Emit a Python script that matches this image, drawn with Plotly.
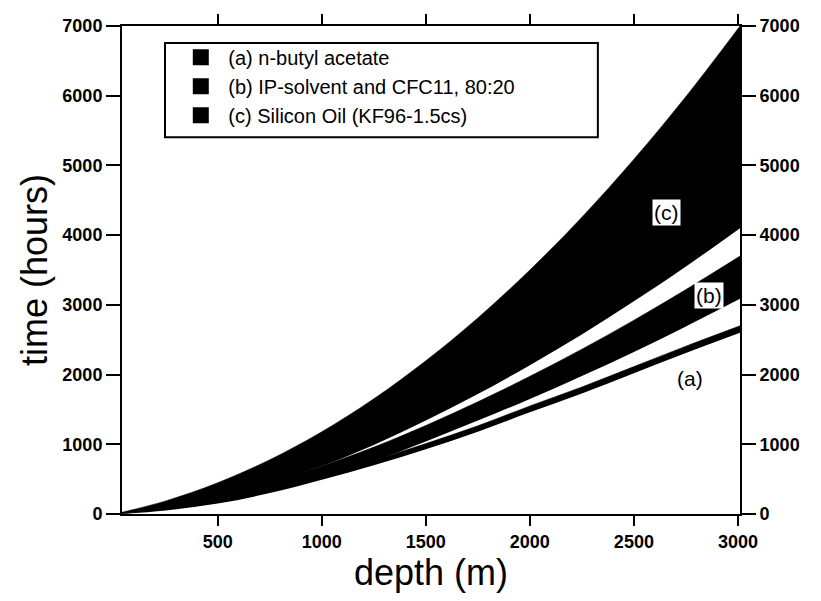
import plotly.graph_objects as go

# depth (m)
depth = [40, 250, 500, 750, 1000, 1250, 1500, 1750, 2000, 2250, 2500, 2750, 3010]

# band edges, time (hours)
a_lo = [0, 50, 150, 300, 490, 700, 930, 1180, 1460, 1730, 2020, 2310, 2600]
a_hi = [5, 90, 210, 370, 570, 770, 1010, 1265, 1550, 1822, 2115, 2408, 2700]
b_lo = [3, 80, 200, 360, 550, 760, 1040, 1340, 1650, 1980, 2325, 2690, 3086]
b_hi = [10, 130, 300, 480, 690, 960, 1270, 1610, 1975, 2365, 2780, 3220, 3700]
c_lo = [8, 120, 290, 470, 690, 990, 1340, 1720, 2135, 2575, 3050, 3550, 4100]
c_hi = [25, 188, 448, 778, 1180, 1653, 2198, 2813, 3500, 4258, 5088, 5988, 7000]

names = ["(a) n-butyl acetate", "(b) IP-solvent and CFC11, 80:20", "(c) Silicon Oil (KF96-1.5cs)"]
bands = [(a_lo, a_hi), (b_lo, b_hi), (c_lo, c_hi)]

x_ticks = [500, 1000, 1500, 2000, 2500, 3000]
y_ticks = [0, 1000, 2000, 3000, 4000, 5000, 6000, 7000]

labels = ["(a)", "(b)", "(c)"]
label_x = [2770, 2862, 2655]
label_y = [1943, 3129, 4330]
label_bg = ["rgba(0,0,0,0)", "white", "white"]

FONT = "Liberation Sans, Arial, sans-serif"

fig = go.Figure()
for (lo, hi), nm in zip(bands, names):
    fig.add_trace(go.Scatter(x=depth, y=lo, mode="lines", line=dict(width=0, shape="spline", color="black"),
                             showlegend=False, hoverinfo="skip"))
    fig.add_trace(go.Scatter(x=depth, y=hi, mode="lines", line=dict(width=0.5, shape="spline", color="black"),
                             fill="tonexty", fillcolor="black", showlegend=False, hoverinfo="skip"))

for nm in names:
    fig.add_trace(go.Scatter(x=[None], y=[None], mode="markers", yaxis="y2", name=nm,
                             marker=dict(symbol="square", size=16, color="black")))

for t, x, y, bg in zip(labels, label_x, label_y, label_bg):
    fig.add_annotation(x=x, y=y, text=t, showarrow=False, bgcolor=bg, borderpad=1,
                       font=dict(family=FONT, size=21, color="black"))

# legend frame
fig.add_shape(type="rect", xref="paper", yref="paper", x0=0.0696, x1=0.770, y0=0.772, y1=0.965,
              line=dict(color="black", width=2), fillcolor="rgba(0,0,0,0)", layer="above")

axis_common = dict(showgrid=False, zeroline=False, showline=True, linecolor="black", linewidth=2,
                   ticks="outside", tickwidth=2, tickcolor="black",
                   tickfont=dict(family=FONT, size=18, color="black", weight="bold"))

fig.update_layout(
    width=821, height=601,
    margin=dict(l=114, r=89, t=6, b=95),
    paper_bgcolor="white", plot_bgcolor="white",
    font=dict(family=FONT, color="black"),
    xaxis=dict(range=[40, 3010], tickvals=x_ticks, ticklen=10, mirror="ticks",
               title=dict(text="depth (m)", font=dict(family=FONT, size=36), standoff=2),
               **axis_common),
    yaxis=dict(range=[0, 7000], tickvals=y_ticks, ticklen=14, mirror="ticks",
               title=dict(text="time (hours)", font=dict(family=FONT, size=36), standoff=4),
               **axis_common),
    yaxis2=dict(range=[0, 7000], tickvals=y_ticks, ticklen=14, overlaying="y", side="right",
                **axis_common),
    legend=dict(x=0.083, y=0.976, xanchor="left", yanchor="top", bgcolor="rgba(0,0,0,0)",
                borderwidth=0, font=dict(family=FONT, size=20, color="black"),
                itemwidth=45, tracegroupgap=0, traceorder="normal"),
    showlegend=True,
)

fig.write_html("out.html")
